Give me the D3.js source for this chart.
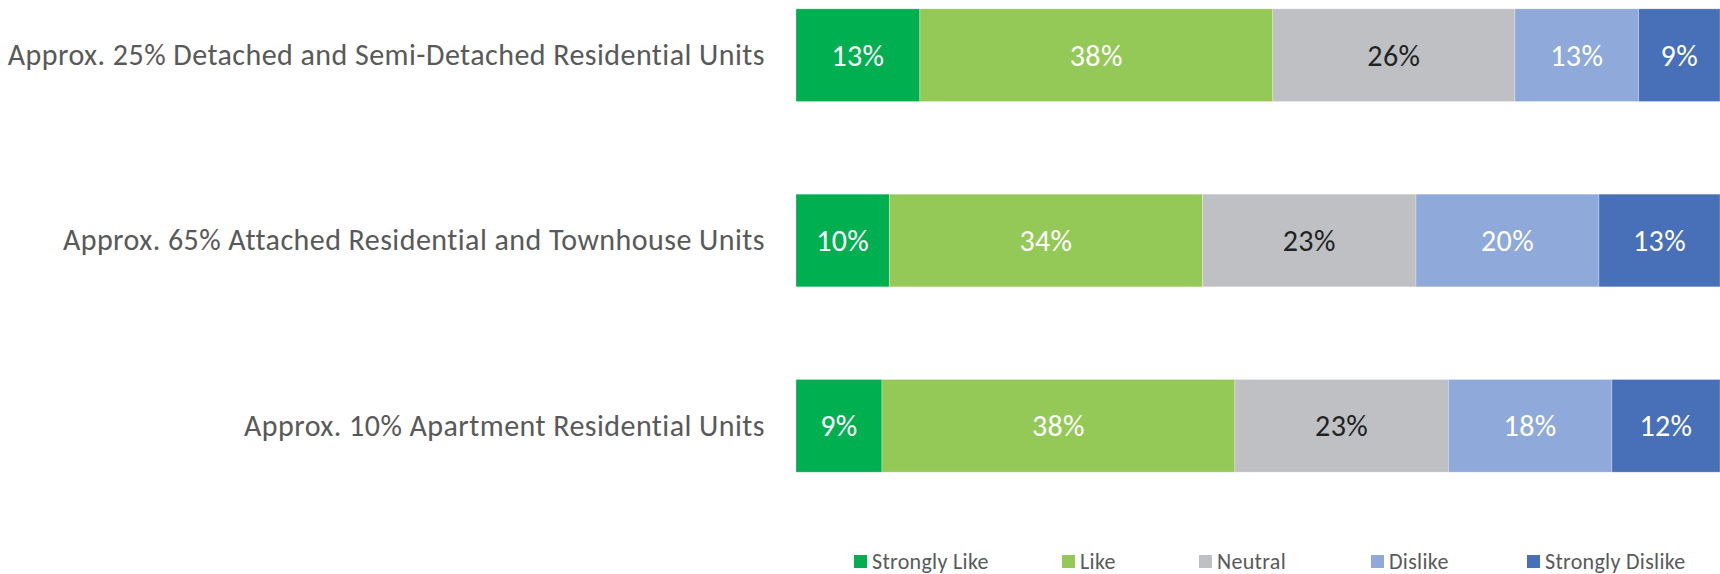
<!DOCTYPE html>
<html>
<head>
<meta charset="utf-8">
<script src="https://cdn.jsdelivr.net/npm/d3@7"></script>
<style>
  html, body { margin: 0; padding: 0; background: #ffffff; }
  svg { display: block; }
  text { font-family: Carlito, Calibri, Lato, "Open Sans", sans-serif; }
</style>
</head>
<body>
<svg id="chart" width="1720" height="574"></svg>
<script>
// Housing mix preference survey — share of responses per option (percent)
const categories = [
  "Approx. 25% Detached and Semi-Detached Residential Units",
  "Approx. 65% Attached Residential and Townhouse Units",
  "Approx. 10% Apartment Residential Units"
];
const seriesNames = ["Strongly Like", "Like", "Neutral", "Dislike", "Strongly Dislike"];
const stronglyLike    = [13.4, 10.1, 9.3];
const like            = [38.2, 33.9, 38.2];
const neutral         = [26.2, 23.1, 23.1];
const dislike         = [13.4, 19.8, 17.7];
const stronglyDislike = [8.8, 13.1, 11.7];
const seriesColors = ["#00B050", "#95C957", "#BFC0C3", "#8FAADA", "#4870B8"];
const labelColors  = ["#ffffff", "#ffffff", "#222222", "#ffffff", "#ffffff"];

// Build rows for the stack layout
const rows = categories.map((c, i) => ({
  category: c,
  "Strongly Like": stronglyLike[i],
  "Like": like[i],
  "Neutral": neutral[i],
  "Dislike": dislike[i],
  "Strongly Dislike": stronglyDislike[i]
}));

const svg = d3.select("#chart");

const x = d3.scaleLinear().domain([0, 100]).range([796, 1720]);
const y = d3.scaleBand()
  .domain(categories)
  .range([-37.5, 518.5])
  .paddingInner(0.5)
  .paddingOuter(0.25);

const stack = d3.stack().keys(seriesNames);
const stacked = stack(rows);

const layers = svg.append("g").selectAll("g")
  .data(stacked)
  .join("g")
  .attr("fill", (d, i) => seriesColors[i]);

layers.selectAll("rect")
  .data(d => d)
  .join("rect")
  .attr("x", d => x(d[0]))
  .attr("y", d => y(d.data.category))
  .attr("width", d => x(d[1]) - x(d[0]))
  .attr("height", y.bandwidth())
  .attr("stroke", "#ffffff")
  .attr("stroke-opacity", 0.35)
  .attr("stroke-width", 0.75);

// Value labels centred in each segment
const fmt = v => d3.format(".0f")(v) + "%";
layers.each(function(layer, i) {
  d3.select(this).selectAll("text")
    .data(layer)
    .join("text")
    .attr("x", d => (x(d[0]) + x(d[1])) / 2)
    .attr("y", d => y(d.data.category) + y.bandwidth() / 2)
    .attr("text-anchor", "middle")
    .attr("dominant-baseline", "central")
    .attr("font-size", 30)
    .attr("letter-spacing", 0.4)
    .attr("fill", labelColors[i])
    .text(d => fmt(d[1] - d[0]));
});

// Category axis (labels only, no line or ticks)
const yAxis = svg.append("g")
  .attr("transform", "translate(765,0)")
  .call(d3.axisLeft(y).tickSize(0).tickPadding(0));
yAxis.select(".domain").remove();
yAxis.selectAll("text")
  .attr("font-size", 30)
  .attr("letter-spacing", 0.45)
  .attr("fill", "#595959")
  .attr("font-family", null)
  .attr("dy", "0.33em");

// Legend
const legendX = [854, 1062, 1199, 1371, 1527];
const legend = svg.append("g").selectAll("g")
  .data(seriesNames)
  .join("g")
  .attr("transform", (d, i) => `translate(${legendX[i]},555)`);
legend.append("rect")
  .attr("width", 13)
  .attr("height", 13)
  .attr("fill", (d, i) => seriesColors[i]);
legend.append("text")
  .attr("x", 18)
  .attr("y", 6.5)
  .attr("dominant-baseline", "central")
  .attr("font-size", 22)
  .attr("letter-spacing", 0.3)
  .attr("fill", "#595959")
  .text(d => d);
</script>
</body>
</html>
